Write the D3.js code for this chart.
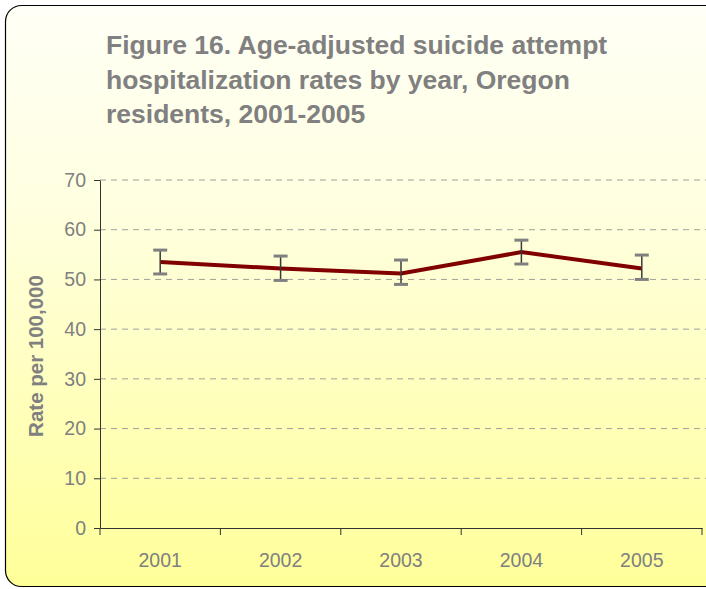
<!DOCTYPE html>
<html>
<head>
<meta charset="utf-8">
<script src="https://cdn.jsdelivr.net/npm/d3@7"></script>
<style>
  body { margin: 0; background: #fff; }
  svg { display: block; font-family: Arial, "Liberation Sans", sans-serif; }
</style>
</head>
<body>
<script>
// chart data
const years = ["2001", "2002", "2003", "2004", "2005"];
const rates = [53.5, 52.2, 51.2, 55.5, 52.2];
const upper = [55.9, 54.7, 53.9, 57.9, 54.9];
const lower = [51.1, 49.8, 49.0, 53.1, 50.0];
const yTicks = [0, 10, 20, 30, 40, 50, 60, 70];

const width = 706;
const height = 589;
const grey = "#808080";
const fontFam = "Arial, 'Liberation Sans', sans-serif";

const svg = d3.select("body").append("svg")
  .attr("width", width)
  .attr("height", height);

// background gradient
const defs = svg.append("defs");
const grad = defs.append("linearGradient")
  .attr("id", "bg")
  .attr("x1", 0).attr("y1", 0).attr("x2", 0).attr("y2", 1);
grad.append("stop").attr("offset", "0%").attr("stop-color", "#fffff6");
grad.append("stop").attr("offset", "35%").attr("stop-color", "#ffffe0");
grad.append("stop").attr("offset", "100%").attr("stop-color", "#ffff99");

svg.append("rect")
  .attr("x", 5.5).attr("y", 5.5)
  .attr("width", 730).attr("height", 581)
  .attr("rx", 16).attr("ry", 16)
  .attr("fill", "url(#bg)")
  .attr("stroke", "#000")
  .attr("stroke-width", 1.2);

// title
const title = ["Figure 16. Age-adjusted suicide attempt",
               "hospitalization rates by year, Oregon",
               "residents, 2001-2005"];
svg.append("g").selectAll("text")
  .data(title)
  .join("text")
  .attr("x", 106)
  .attr("y", (d, i) => 54 + i * 34.5)
  .attr("fill", grey)
  .attr("font-size", 26.5)
  .attr("font-weight", "bold")
  .text(d => d);

// scales
const x = d3.scaleBand().domain(years).range([100, 702]);
const y = d3.scaleLinear().domain([0, 70]).range([528, 180]);

// gridlines
svg.append("g").selectAll("line")
  .data(yTicks.filter(d => d > 0))
  .join("line")
  .attr("x1", 100).attr("x2", 706)
  .attr("y1", d => y(d)).attr("y2", d => y(d))
  .attr("stroke", "#a0a09a")
  .attr("stroke-width", 1)
  .attr("stroke-dasharray", "6,5");

// axes
const yAxis = svg.append("g")
  .attr("transform", "translate(100,0)")
  .call(d3.axisLeft(y).tickValues(yTicks).tickSize(6).tickSizeOuter(0).tickPadding(8));
yAxis.select(".domain").attr("stroke", "#333");
yAxis.selectAll(".tick line").attr("stroke", "#333");
yAxis.selectAll("text").attr("fill", grey).attr("font-size", 19.5)
  .attr("font-family", fontFam);

const xAxis = svg.append("g")
  .attr("transform", "translate(0,528)")
  .call(d3.axisBottom(x).tickSize(0).tickPadding(25));
xAxis.select(".domain").attr("stroke", "#333");
xAxis.selectAll("text").attr("fill", grey).attr("font-size", 19.5)
  .attr("font-family", fontFam);
// category boundary ticks
xAxis.append("g").selectAll("line")
  .data(years.concat(["end"]))
  .join("line")
  .attr("x1", (d, i) => x.range()[0] + i * x.step())
  .attr("x2", (d, i) => x.range()[0] + i * x.step())
  .attr("y1", 0).attr("y2", 7)
  .attr("stroke", "#333");

// y label
svg.append("text")
  .attr("transform", "translate(43,356) rotate(-90)")
  .attr("text-anchor", "middle")
  .attr("fill", grey)
  .attr("font-size", 20.5)
  .attr("font-weight", "bold")
  .text("Rate per 100,000");

const cx = d => x(d) + x.bandwidth() / 2;

// line
svg.append("path")
  .datum(years)
  .attr("fill", "none")
  .attr("stroke", "#800000")
  .attr("stroke-width", 4)
  .attr("d", d3.line().x(d => cx(d)).y((d, i) => y(rates[i])));

// error bars
const eb = svg.append("g").selectAll("g")
  .data(years)
  .join("g");
eb.append("line")
  .attr("x1", d => cx(d)).attr("x2", d => cx(d))
  .attr("y1", (d, i) => y(upper[i])).attr("y2", (d, i) => y(lower[i]))
  .attr("stroke", "#3a3a3a").attr("stroke-width", 1.5);
[upper, lower].forEach(arr => {
  eb.append("line")
    .attr("x1", d => cx(d) - 7).attr("x2", d => cx(d) + 7)
    .attr("y1", (d, i) => y(arr[i])).attr("y2", (d, i) => y(arr[i]))
    .attr("stroke", grey).attr("stroke-width", 3);
});
</script>
</body>
</html>
